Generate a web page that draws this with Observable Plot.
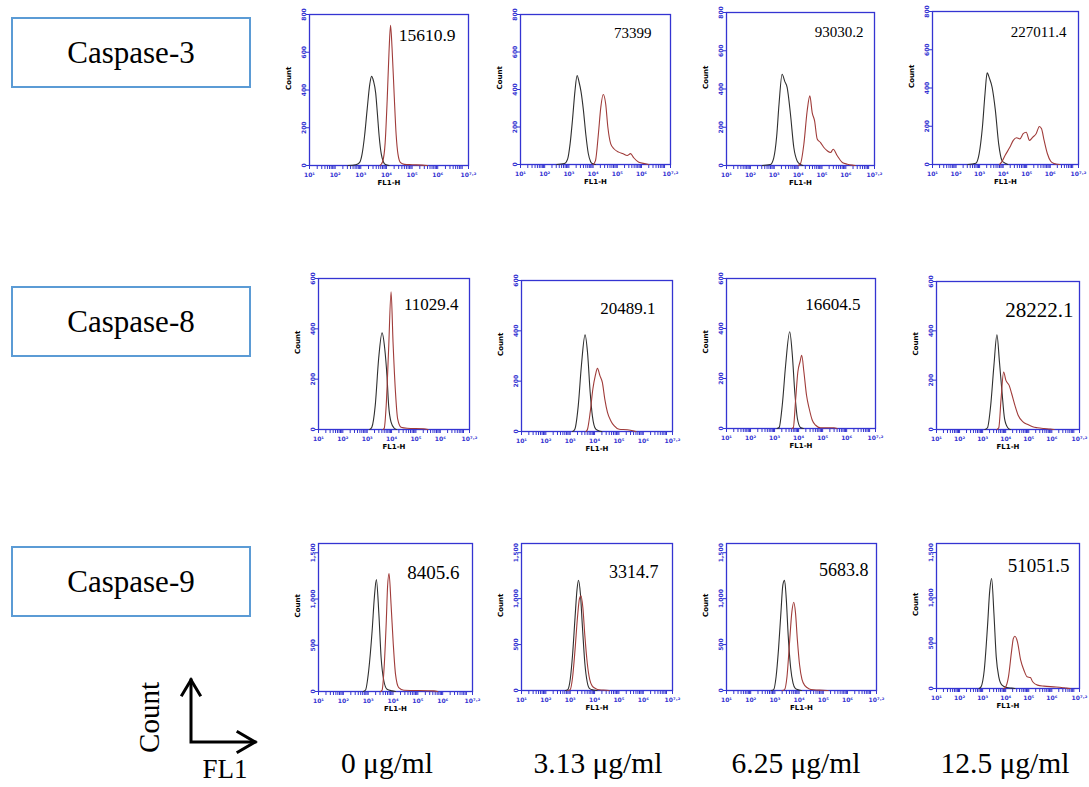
<!DOCTYPE html>
<html><head><meta charset="utf-8">
<script src="https://cdn.jsdelivr.net/npm/d3@7"></script>
<script src="https://cdn.jsdelivr.net/npm/@observablehq/plot@0.6"></script>
<style>
body{margin:0;background:#fff;}
#fig{position:relative;width:1089px;height:787px;overflow:hidden;background:#fff;font-family:'Liberation Serif','Times New Roman',serif;color:#000;}
.box{position:absolute;box-sizing:border-box;border:2px solid #5b9bd5;display:flex;align-items:center;justify-content:center;font-family:'Liberation Serif','Times New Roman',serif;font-size:31px;}
.conc{position:absolute;width:200px;text-align:center;font-family:'Liberation Serif','Times New Roman',serif;font-size:29.5px;line-height:29px;white-space:nowrap;}
.panel{position:absolute;}
</style></head>
<body>
<div id="fig"></div>
<script>
// ---------------- data ----------------
const proteins = ["Caspase-3", "Caspase-8", "Caspase-9"];
const doses = ["0 μg/ml", "3.13 μg/ml", "6.25 μg/ml", "12.5 μg/ml"];
const yMaxByRow = [800, 600, 1600];
const yTicksByRow = [[0, 200, 400, 600, 800], [0, 200, 400, 600], [0, 500, 1000, 1500]];
const xMajorTicks = [1, 2, 3, 4, 5, 6, 7.2];
const xTickLabels = ["10¹", "10²", "10³", "10⁴", "10⁵", "10⁶", "10⁷·²"];
const meanLabels = [
  ["15610.9", "73399", "93030.2", "227011.4"],
  ["11029.4", "20489.1", "16604.5", "28222.1"],
  ["8405.6", "3314.7", "5683.8", "51051.5"]
];

// histograms: [log10(FL1-H), count]; ctrl = black (untreated), trt = red
const c3_0_ctrl = [[2.5,0],[2.8,4],[2.95,15],[3.05,60],[3.15,160],[3.25,300],[3.35,430],[3.42,472],[3.5,445],[3.58,385],[3.65,270],[3.72,150],[3.8,60],[3.88,20],[3.96,5],[4.1,0]];
const c3_0_trt = [[3.75,0],[3.85,20],[3.95,120],[4.03,350],[4.1,600],[4.16,743],[4.22,620],[4.3,380],[4.38,160],[4.45,60],[4.55,15],[4.7,6],[5.0,4],[5.4,2],[5.6,0]];
const c3_1_ctrl = [[2.5,0],[2.82,5],[2.95,30],[3.05,110],[3.15,240],[3.25,390],[3.34,475],[3.42,440],[3.5,390],[3.6,290],[3.7,160],[3.8,60],[3.9,15],[3.96,5],[4.1,0]];
const c3_1_trt = [[4.0,0],[4.1,21],[4.22,164],[4.32,306],[4.42,373],[4.52,324],[4.61,200],[4.73,110],[4.86,84],[5.06,66],[5.24,57],[5.41,48],[5.55,58],[5.68,36],[5.89,12],[6.17,4],[6.3,0]];
const c3_2_ctrl = [[2.5,0],[2.84,5],[2.98,40],[3.1,150],[3.2,320],[3.33,477],[3.44,440],[3.54,408],[3.68,268],[3.82,94],[3.96,24],[4.1,5],[4.2,0]];
const c3_2_trt = [[4.0,0],[4.1,10],[4.24,111],[4.38,286],[4.49,364],[4.59,277],[4.69,233],[4.8,138],[4.94,120],[5.08,94],[5.22,77],[5.36,68],[5.47,85],[5.64,51],[5.85,16],[6.06,7],[6.27,2],[6.4,0]];
const c3_3_ctrl = [[2.5,0],[2.84,7],[2.98,56],[3.12,196],[3.23,370],[3.32,479],[3.42,450],[3.53,405],[3.67,283],[3.81,108],[3.95,21],[4.08,7],[4.2,0]];
const c3_3_trt = [[3.85,0],[3.95,15],[4.08,47],[4.29,91],[4.43,126],[4.57,140],[4.71,134],[4.85,161],[4.98,169],[5.12,126],[5.26,143],[5.4,161],[5.54,199],[5.63,187],[5.74,126],[5.88,56],[6.02,17],[6.16,5],[6.3,1],[6.4,0]];

const c8_0_ctrl = [[3.1,0],[3.19,9],[3.33,96],[3.47,282],[3.61,384],[3.72,321],[3.81,215],[3.88,96],[3.98,29],[4.11,5],[4.2,0]];
const c8_0_trt = [[3.65,0],[3.7,5],[3.78,96],[3.88,321],[3.98,547],[4.06,348],[4.16,149],[4.25,42],[4.39,9],[4.64,5],[5.32,3],[5.5,0]];
const c8_1_ctrl = [[3.1,0],[3.19,9],[3.33,102],[3.46,262],[3.61,384],[3.71,315],[3.82,155],[3.91,62],[4.05,9],[4.19,2],[4.3,0]];
const c8_1_trt = [[3.65,0],[3.71,9],[3.82,76],[3.93,169],[4.03,222],[4.12,251],[4.22,222],[4.32,195],[4.42,129],[4.53,76],[4.67,42],[4.8,23],[5.01,9],[5.35,7],[5.62,2],[5.7,0]];
const c8_2_ctrl = [[3.1,0],[3.19,4],[3.32,93],[3.46,253],[3.63,387],[3.74,293],[3.84,147],[3.95,40],[4.08,4],[4.2,0]];
const c8_2_trt = [[3.72,0],[3.78,3],[3.88,120],[3.97,227],[4.06,267],[4.13,293],[4.22,227],[4.33,133],[4.44,80],[4.57,33],[4.71,13],[4.91,3],[5.47,3],[5.6,0]];
const c8_3_ctrl = [[3.1,0],[3.21,7],[3.35,98],[3.49,260],[3.62,384],[3.73,273],[3.84,152],[3.95,44],[4.09,7],[4.2,0]];
const c8_3_trt = [[3.62,0],[3.7,7],[3.8,125],[3.91,233],[4.01,199],[4.15,179],[4.26,145],[4.4,98],[4.54,58],[4.75,31],[4.96,20],[5.17,11],[5.38,7],[5.66,4],[5.94,2],[6.1,0]];

const c9_0_ctrl = [[2.8,0],[2.89,14],[3.02,225],[3.16,659],[3.25,1022],[3.33,1210],[3.43,841],[3.52,370],[3.63,116],[3.76,25],[3.96,7],[4.1,0]];
const c9_0_trt = [[3.5,0],[3.56,14],[3.65,297],[3.73,768],[3.78,1130],[3.84,1275],[3.92,949],[4.01,514],[4.1,188],[4.23,43],[4.44,14],[5.65,7],[5.8,0]];
const c9_1_ctrl = [[2.8,0],[2.9,10],[3.0,120],[3.1,400],[3.2,800],[3.28,1100],[3.34,1200],[3.42,1050],[3.5,700],[3.6,300],[3.7,90],[3.8,20],[3.95,5],[4.1,0]];
const c9_1_trt = [[2.9,0],[3.0,10],[3.1,150],[3.2,450],[3.3,800],[3.38,1000],[3.44,1030],[3.52,900],[3.6,600],[3.7,300],[3.8,120],[3.9,50],[4.05,20],[4.2,8],[4.5,3],[4.6,0]];
const c9_2_ctrl = [[2.85,0],[2.95,10],[3.05,150],[3.15,450],[3.25,850],[3.33,1150],[3.4,1200],[3.47,1000],[3.55,600],[3.65,250],[3.75,80],[3.85,20],[4.0,5],[4.1,0]];
const c9_2_trt = [[3.3,0],[3.4,10],[3.5,150],[3.6,500],[3.7,850],[3.78,960],[3.85,850],[3.93,550],[4.02,280],[4.12,120],[4.25,50],[4.4,20],[4.6,8],[5.0,3],[5.2,0]];
const c9_3_ctrl = [[2.85,0],[2.93,18],[3.07,202],[3.21,680],[3.31,1085],[3.39,1213],[3.49,827],[3.59,349],[3.7,129],[3.84,37],[4.05,11],[4.26,4],[4.4,0]];
const c9_3_trt = [[3.9,0],[3.98,11],[4.12,129],[4.26,423],[4.33,551],[4.4,577],[4.51,515],[4.65,312],[4.79,202],[4.93,129],[5.07,121],[5.17,74],[5.38,37],[5.66,26],[6.08,18],[6.43,11],[6.64,4],[6.8,0]];

const ctrlSeries = [
  [c3_0_ctrl, c3_1_ctrl, c3_2_ctrl, c3_3_ctrl],
  [c8_0_ctrl, c8_1_ctrl, c8_2_ctrl, c8_3_ctrl],
  [c9_0_ctrl, c9_1_ctrl, c9_2_ctrl, c9_3_ctrl]
];
const trtSeries = [
  [c3_0_trt, c3_1_trt, c3_2_trt, c3_3_trt],
  [c8_0_trt, c8_1_trt, c8_2_trt, c8_3_trt],
  [c9_0_trt, c9_1_trt, c9_2_trt, c9_3_trt]
];

// ---------------- layout ----------------
// plot frame [left, top, width, height] per panel
const frames = [
  [[309,14,159,151],[520,14,150,150],[726,12,148,153],[932,11,146,153]],
  [[318,278,151,151],[521,280,151,151],[726,278,149,150],[936,281,143,148]],
  [[318,543,154,148],[521,543,151,147],[726,543,150,147],[936,543,143,145]]
];
// value label: [gap from right, centre offset from top, font size]
const labelPos = [
  [[13,21,17.5],[19,19,15],[11,20,15],[12,21,15]],
  [[11,26,17],[17,28,17],[15,26,17],[6,29,21]],
  [[13,29,19],[14,29,18],[8,27,18],[10,22,19]]
];
const boxTops = [17, 286, 546];
const doseCenters = [387, 598, 796, 1005];

const blue = "#3434d2";
const serif = "'Liberation Serif', 'Times New Roman', serif";
const mL = 32, mR = 10, mT = 10, mB = 28;

const fig = document.getElementById("fig");

// minor ticks of a log axis (in decades)
const xMinor = [];
for (let d = 1; d < 7; d++) for (let k = 2; k <= 9; k++) xMinor.push(d + Math.log10(k));
const xAllTicks = xMajorTicks.concat(xMinor);
const fmtX = v => { const i = xMajorTicks.indexOf(v); return i >= 0 ? xTickLabels[i] : ""; };

proteins.forEach((p, r) => {
  const b = document.createElement("div");
  b.className = "box";
  b.style.left = "11px"; b.style.top = boxTops[r] + "px";
  b.style.width = "240px"; b.style.height = "71px";
  b.textContent = p;
  fig.appendChild(b);

  doses.forEach((dz, c) => {
    const [L, T, W, H] = frames[r][c];
    const [gr, gt, fs] = labelPos[r][c];
    const yFmt = r === 2 ? d3.format(",") : d3.format("d");
    const svg = Plot.plot({
      width: W + mL + mR, height: H + mT + mB,
      marginLeft: mL, marginRight: mR, marginTop: mT, marginBottom: mB,
      style: {background: "transparent", color: blue, fontSize: "6px", fontFamily: "DejaVu Sans, sans-serif", fontWeight: "bold", overflow: "visible"},
      x: {domain: [1, 7.2], ticks: xAllTicks, tickFormat: fmtX, tickSize: 4, tickPadding: 3, label: null},
      y: {domain: [0, yMaxByRow[r]], ticks: yTicksByRow[r], tickFormat: yFmt, tickSize: 3, tickPadding: 1, tickRotate: -90, label: null},
      marks: [
        Plot.frame({stroke: blue, strokeWidth: 1.3}),
        Plot.line(ctrlSeries[r][c], {x: d => d[0], y: d => d[1], stroke: "#2f2f2f", strokeWidth: 1.1, curve: "monotone-x"}),
        Plot.line(trtSeries[r][c], {x: d => d[0], y: d => d[1], stroke: "#a03c3a", strokeWidth: 1.1, curve: "monotone-x"}),
        Plot.text(["Count"], {frameAnchor: "left", dx: -21, rotate: -90, fill: "black", fontSize: 7}),
        Plot.text(["FL1-H"], {frameAnchor: "bottom", dy: 19, fill: "black", fontSize: 7}),
        Plot.text([meanLabels[r][c]], {frameAnchor: "top-right", dx: -gr, dy: gt, textAnchor: "end", lineAnchor: "middle",
          fontFamily: serif, fontSize: fs, fontWeight: "normal", fill: "black"})
      ]
    });
    svg.classList.add("panel");
    svg.style.left = (L - mL) + "px";
    svg.style.top = (T - mT) + "px";
    fig.appendChild(svg);
  });
});

doses.forEach((dz, c) => {
  const d = document.createElement("div");
  d.className = "conc";
  d.style.left = (doseCenters[c] - 100) + "px";
  d.style.top = "749px";
  d.textContent = dz;
  fig.appendChild(d);
});

// axis key (Count / FL1)
const cnt = document.createElement("div");
cnt.className = "conc";
cnt.style.width = "100px"; cnt.style.left = "99px"; cnt.style.top = "703px";
cnt.style.fontSize = "29px"; cnt.style.transform = "rotate(-90deg)";
cnt.textContent = "Count";
fig.appendChild(cnt);
const fl = document.createElement("div");
fl.className = "conc";
fl.style.width = "100px"; fl.style.left = "175px"; fl.style.top = "758px";
fl.style.fontSize = "27px"; fl.style.lineHeight = "22px";
fl.textContent = "FL1";
fig.appendChild(fl);
fig.insertAdjacentHTML("beforeend",
  '<svg style="position:absolute;left:170px;top:670px" width="100" height="90" fill="none" stroke="#000" stroke-width="3" stroke-linecap="square">' +
  '<path d="M21,10V72H85"/><path d="M12,25L21,10L30,25"/><path d="M68,62L85,72L68,82"/></svg>');
</script>
</body></html>
